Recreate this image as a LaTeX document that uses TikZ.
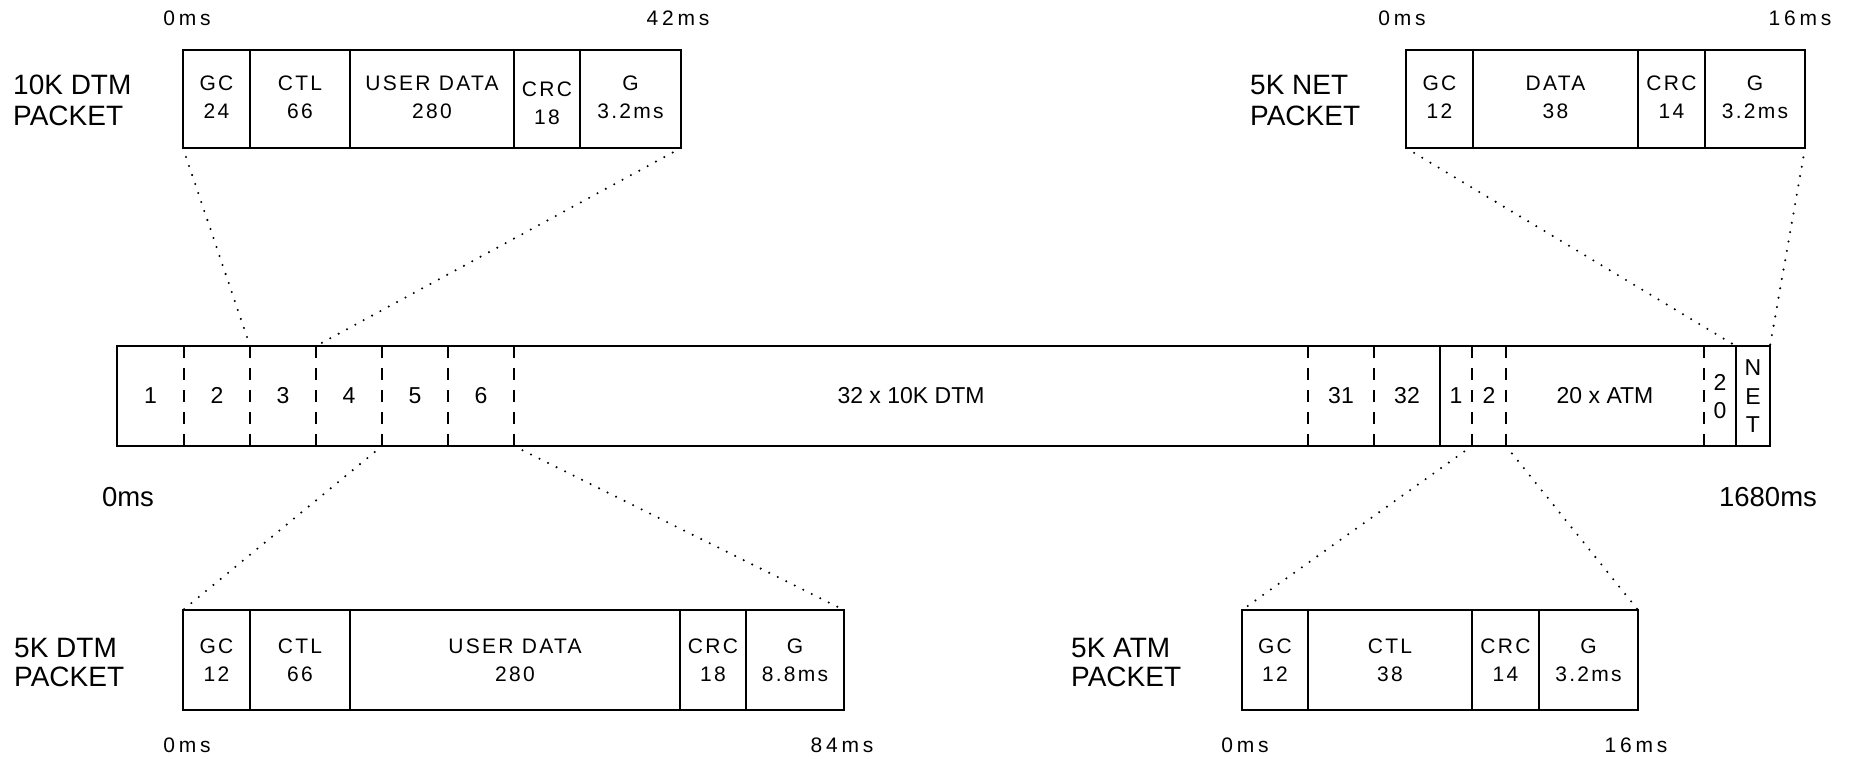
\documentclass[tikz,border=0pt]{standalone}
\usepackage{fontspec}
\setmainfont{Liberation Sans}
\newfontfamily\tickfont[LetterSpace=18]{Liberation Sans}
\newfontfamily\cellfont[LetterSpace=11]{Liberation Sans}
\begin{document}
\begin{tikzpicture}[x=1pt,y=-1pt,
  frame/.style={draw, line width=1.8pt, inner sep=0pt, outer sep=0pt},
  divider/.style={line width=1.8pt},
  slotdash/.style={line width=1.8pt, dash pattern=on 12pt off 10pt},
  zoomline/.style={line width=2.3pt, line cap=round, dash pattern=on 0pt off 9.5pt},
  celltxt/.style={anchor=base, inner sep=0pt, font=\cellfont\fontsize{21}{25}\selectfont},
  bartxt/.style={anchor=base, inner sep=0pt, font=\fontsize{23}{28}\selectfont},
  ticktxt/.style={anchor=base, inner sep=0pt, font=\tickfont\fontsize{21}{25}\selectfont},
  bigtick/.style={anchor=base, inner sep=0pt, font=\fontsize{27.5}{32}\selectfont},
  titletxt/.style={anchor=base west, inner sep=0pt, font=\fontsize{28}{32}\selectfont},
]
\useasboundingbox (0,0) rectangle (1850,758);

% ---------------- main bar ----------------
\node[frame, minimum width=1653pt, minimum height=100pt] (bar) at (943.5,396) {};
\foreach \x in {184,250,316,382,448,514,1308,1374,1472,1506,1704}
  \draw[slotdash] (\x,346) -- (\x,446);
\foreach \x in {1440,1736}
  \draw[divider] (\x,346) -- (\x,446);

\node[bartxt] (m1) at (150.5,403) {1};
\node[bartxt] (m2) at (217,403) {2};
\node[bartxt] (m3) at (283,403) {3};
\node[bartxt] (m4) at (349,403) {4};
\node[bartxt] (m5) at (415,403) {5};
\node[bartxt] (m6) at (481,403) {6};
\node[bartxt] (mdtm) at (911,403) {32 x 10K DTM};
\node[bartxt] (m31) at (1341,403) {31};
\node[bartxt] (m32) at (1407,403) {32};
\node[bartxt] (a1) at (1456,403) {1};
\node[bartxt] (a2) at (1489,403) {2};
\node[bartxt] (matm) at (1605,403) {20 x ATM};
\node[bartxt] (a20a) at (1720,390) {2};
\node[bartxt] (a20b) at (1720,418) {0};
\node[bartxt] (netn) at (1753,375) {N};
\node[bartxt] (nete) at (1753,404) {E};
\node[bartxt] (nett) at (1753,432) {T};

\node[bigtick] (t0) at (128,506) {0ms};
\node[bigtick] (t1680) at (1768,506) {1680ms};

% ---------------- 10K DTM packet (top left) ----------------
\node[frame, minimum width=498pt, minimum height=98pt] (tl) at (432,99) {};
\foreach \x in {250,350,514,580}
  \draw[divider] (\x,50) -- (\x,148);
\node[celltxt] (tl1a) at (216.5,90) {GC};
\node[celltxt] (tl1b) at (216.5,118) {24};
\node[celltxt] (tl2a) at (300,90) {CTL};
\node[celltxt] (tl2b) at (300,118) {66};
\node[celltxt] (tl3a) at (432,90) {USER DATA};
\node[celltxt] (tl3b) at (432,118) {280};
\node[celltxt] (tl4a) at (547,96) {CRC};
\node[celltxt] (tl4b) at (547,124) {18};
\node[celltxt] (tl5a) at (630.5,90) {G};
\node[celltxt] (tl5b) at (630.5,118) {3.2ms};
\node[titletxt] (tlt1) at (13,94) {10K DTM};
\node[titletxt] (tlt2) at (13,125) {PACKET};
\node[ticktxt] (tl0) at (187,25) {0ms};
\node[ticktxt] (tl42) at (678,25) {42ms};

% ---------------- 5K NET packet (top right) ----------------
\node[frame, minimum width=399pt, minimum height=98pt] (tr) at (1605.5,99) {};
\foreach \x in {1473,1638,1705}
  \draw[divider] (\x,50) -- (\x,148);
\node[celltxt] (tr1a) at (1439.5,90) {GC};
\node[celltxt] (tr1b) at (1439.5,118) {12};
\node[celltxt] (tr2a) at (1555.5,90) {DATA};
\node[celltxt] (tr2b) at (1555.5,118) {38};
\node[celltxt] (tr3a) at (1671.5,90) {CRC};
\node[celltxt] (tr3b) at (1671.5,118) {14};
\node[celltxt] (tr4a) at (1755,90) {G};
\node[celltxt] (tr4b) at (1755,118) {3.2ms};
\node[titletxt] (trt1) at (1250,94) {5K NET};
\node[titletxt] (trt2) at (1250,125) {PACKET};
\node[ticktxt] (tr0) at (1402,25) {0ms};
\node[ticktxt] (tr16) at (1800,25) {16ms};

% ---------------- 5K DTM packet (bottom left) ----------------
\node[frame, minimum width=661pt, minimum height=100pt] (bl) at (513.5,660) {};
\foreach \x in {250,350,680,746}
  \draw[divider] (\x,610) -- (\x,710);
\node[celltxt] (bl1a) at (216.5,653) {GC};
\node[celltxt] (bl1b) at (216.5,681) {12};
\node[celltxt] (bl2a) at (300,653) {CTL};
\node[celltxt] (bl2b) at (300,681) {66};
\node[celltxt] (bl3a) at (515,653) {USER DATA};
\node[celltxt] (bl3b) at (515,681) {280};
\node[celltxt] (bl4a) at (713,653) {CRC};
\node[celltxt] (bl4b) at (713,681) {18};
\node[celltxt] (bl5a) at (795,653) {G};
\node[celltxt] (bl5b) at (795,681) {8.8ms};
\node[titletxt] (blt1) at (14,657) {5K DTM};
\node[titletxt] (blt2) at (14,686) {PACKET};
\node[ticktxt] (bl0) at (187,752) {0ms};
\node[ticktxt] (bl84) at (842,752) {84ms};

% ---------------- 5K ATM packet (bottom right) ----------------
\node[frame, minimum width=396pt, minimum height=100pt] (br) at (1440,660) {};
\foreach \x in {1308,1472,1539}
  \draw[divider] (\x,610) -- (\x,710);
\node[celltxt] (br1a) at (1275,653) {GC};
\node[celltxt] (br1b) at (1275,681) {12};
\node[celltxt] (br2a) at (1390,653) {CTL};
\node[celltxt] (br2b) at (1390,681) {38};
\node[celltxt] (br3a) at (1505.5,653) {CRC};
\node[celltxt] (br3b) at (1505.5,681) {14};
\node[celltxt] (br4a) at (1588.5,653) {G};
\node[celltxt] (br4b) at (1588.5,681) {3.2ms};
\node[titletxt] (brt1) at (1071,657) {5K ATM};
\node[titletxt] (brt2) at (1071,686) {PACKET};
\node[ticktxt] (br0) at (1245,752) {0ms};
\node[ticktxt] (br16) at (1636,752) {16ms};

% ---------------- zoom connectors ----------------
\coordinate (tA) at (250,346);
\coordinate (tB) at (316,346);
\coordinate (tC) at (1736,346);
\coordinate (bA) at (382,446);
\coordinate (bB) at (514,446);
\coordinate (bC) at (1472,446);
\coordinate (bD) at (1506,446);
\draw[zoomline] (tl.south west) -- (tA);
\draw[zoomline] (tl.south east) -- (tB);
\draw[zoomline] (tr.south west) -- (tC);
\draw[zoomline] (tr.south east) -- (bar.north east);
\draw[zoomline] (bA) -- (bl.north west);
\draw[zoomline] (bB) -- (bl.north east);
\draw[zoomline] (bC) -- (br.north west);
\draw[zoomline] (bD) -- (br.north east);
\end{tikzpicture}
\end{document}
